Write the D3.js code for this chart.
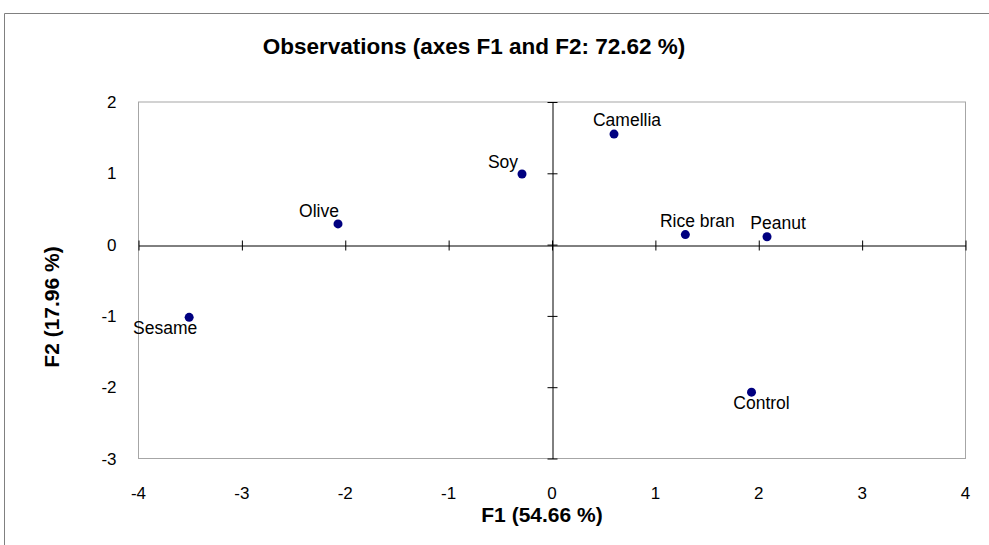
<!DOCTYPE html>
<html>
<head>
<meta charset="utf-8">
<script src="https://cdn.jsdelivr.net/npm/d3@7"></script>
<style>
  html, body { margin: 0; padding: 0; background: #fff; }
  svg { display: block; font-family: "Liberation Sans", Arial, sans-serif; }
</style>
</head>
<body>
<svg id="chart" width="989" height="545"></svg>
<script>
// ---- data ----
const observations = ["Olive", "Soy", "Camellia", "Rice bran", "Peanut", "Sesame", "Control"];
const f1Values = [-2.07, -0.29, 0.60, 1.29, 2.08, -3.51, 1.93];
const f2Values = [0.29, 0.99, 1.55, 0.14, 0.11, -1.02, -2.07];
const xTicks = [-4, -3, -2, -1, 0, 1, 2, 3, 4];
const yTicks = [-3, -2, -1, 0, 1, 2];
const titleText = "Observations (axes F1 and F2: 72.62 %)";
const xTitle = "F1 (54.66 %)";
const yTitle = "F2 (17.96 %)";

// ---- layout (label offsets in px, relative to point) ----
const labelOffsets = [[-19, -7], [-19, -6], [13, -8], [12, -8], [11, -8], [-24, 17], [10, 17]];

const svg = d3.select("#chart");
const plot = { left: 138.5, right: 965.5, top: 102, bottom: 458.5 };

const x = d3.scaleLinear().domain([-4, 4]).range([plot.left, plot.right]);
const y = d3.scaleLinear().domain([-3, 2]).range([plot.bottom, plot.top]);

// outer frame
svg.append("line").attr("x1", 4.5).attr("x2", 989).attr("y1", 13.5).attr("y2", 13.5)
  .attr("stroke", "#808080").attr("stroke-width", 1);
svg.append("line").attr("x1", 4.5).attr("x2", 4.5).attr("y1", 13.5).attr("y2", 545)
  .attr("stroke", "#808080").attr("stroke-width", 1);

// plot area border
svg.append("rect")
  .attr("x", plot.left).attr("y", plot.top)
  .attr("width", plot.right - plot.left).attr("height", plot.bottom - plot.top)
  .attr("fill", "none").attr("stroke", "#a6a6a6").attr("stroke-width", 1);

// axes through origin
const xAxis = d3.axisBottom(x).tickValues(xTicks).tickSize(10).tickSizeOuter(0).tickFormat("");
const yAxis = d3.axisLeft(y).tickValues(yTicks).tickSize(10).tickSizeOuter(0).tickFormat("");

const gx = svg.append("g").attr("transform", `translate(0,${Math.round(y(0)) + 0.5})`).call(xAxis);
gx.selectAll(".tick line").attr("transform", "translate(0,-5)");
const gy = svg.append("g").attr("transform", `translate(${Math.round(x(0)) + 0.5},0)`).call(yAxis);
gy.selectAll(".tick line").attr("transform", "translate(5,0)");
svg.selectAll(".domain").attr("stroke", "#000");
svg.selectAll(".tick line").attr("stroke", "#000");

// tick labels (around the plot edges)
svg.append("g").selectAll("text").data(xTicks).join("text")
  .attr("x", d => x(d)).attr("y", plot.bottom + 40)
  .attr("text-anchor", "middle").attr("font-size", 17).attr("fill", "#000")
  .text(d => d);
svg.append("g").selectAll("text").data(yTicks).join("text")
  .attr("x", plot.left - 22).attr("y", d => y(d) + 6)
  .attr("text-anchor", "end").attr("font-size", 17).attr("fill", "#000")
  .text(d => d);

// titles
svg.append("text").attr("x", 474).attr("y", 54).attr("text-anchor", "middle")
  .attr("font-size", 22.5).attr("font-weight", "bold").text(titleText);
svg.append("text").attr("x", 542).attr("y", 522).attr("text-anchor", "middle")
  .attr("font-size", 21).attr("font-weight", "bold").text(xTitle);
svg.append("text").attr("transform", "translate(59,307) rotate(-90)").attr("text-anchor", "middle")
  .attr("font-size", 21).attr("font-weight", "bold").text(yTitle);

// points
const pts = observations.map((name, i) => ({ name, f1: f1Values[i], f2: f2Values[i], off: labelOffsets[i] }));
svg.append("g").selectAll("circle").data(pts).join("circle")
  .attr("cx", d => x(d.f1)).attr("cy", d => y(d.f2)).attr("r", 4.5)
  .attr("fill", "#000080");
svg.append("g").selectAll("text").data(pts).join("text")
  .attr("x", d => x(d.f1) + d.off[0]).attr("y", d => y(d.f2) + d.off[1])
  .attr("text-anchor", "middle").attr("font-size", 17.5).attr("fill", "#000")
  .text(d => d.name);
</script>
</body>
</html>
